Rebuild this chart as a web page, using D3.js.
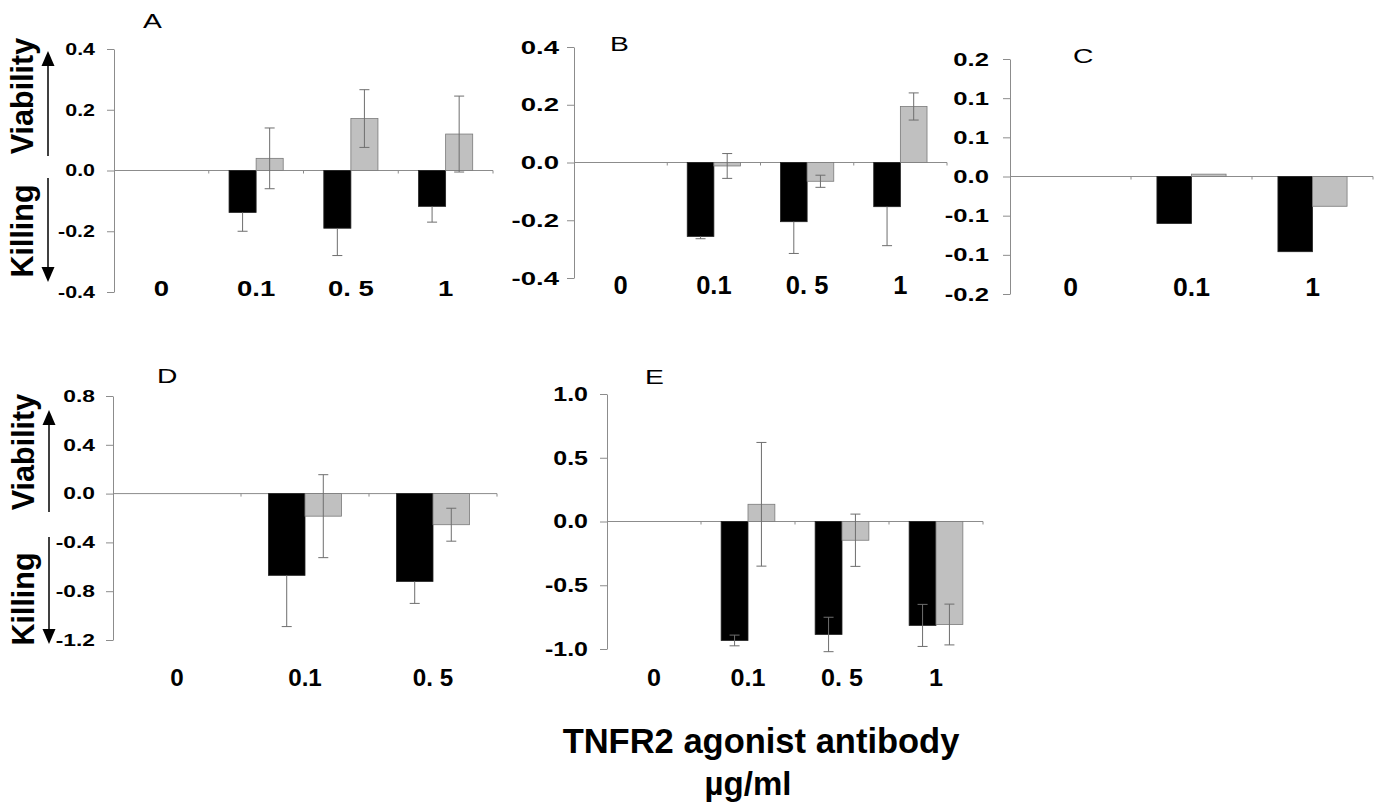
<!DOCTYPE html>
<html>
<head>
<meta charset="utf-8">
<script src="https://cdn.jsdelivr.net/npm/d3@7"></script>
<style>
  body { margin: 0; background: #fff; }
  svg { display: block; }
  text { font-family: "Liberation Sans", Arial, sans-serif; }
</style>
</head>
<body>
<div id="graphicContainer"></div>
<script>

// categories (antibody dose, µg/ml)
const catsFour = ["0", "0.1", "0. 5", "1"]
const catsC = ["0", "0.1", "1"]
const catsD = ["0", "0.1", "0. 5"]

// panel A
const aBlack = [0, -0.138, -0.19, -0.118]
const aBlackErr = [null, 0.062, 0.09, 0.052]
const aGrey = [0, 0.04, 0.171, 0.12]
const aGreyErr = [null, 0.10, 0.095, 0.125]
const ticksA = [-0.4, -0.2, 0, 0.2, 0.4]
const tickLabelsA = ["-0.4", "-0.2", "0.0", "0.2", "0.4"]

// panel B
const bBlack = [0, -0.256, -0.205, -0.153]
const bBlackErr = [null, 0.008, 0.11, 0.135]
const bGrey = [0, -0.012, -0.065, 0.194]
const bGreyErr = [null, 0.043, 0.021, 0.047]
const ticksB = [-0.4, -0.2, 0, 0.2, 0.4]
const tickLabelsB = ["-0.4", "-0.2", "0.0", "0.2", "0.4"]

// panel C (no error bars)
const cBlack = [0, -0.06, -0.096]
const cGrey = [0, 0.003, -0.038]
const ticksC = [-0.15, -0.1, -0.05, 0, 0.05, 0.1, 0.15]
const tickLabelsC = ["-0.2", "-0.1", "-0.1", "0.0", "0.1", "0.1", "0.2"]

// panel D
const dBlack = [0, -0.67, -0.72]
const dBlackErr = [null, 0.42, 0.18]
const dGrey = [0, -0.185, -0.255]
const dGreyErr = [null, 0.34, 0.135]
const ticksD = [-1.2, -0.8, -0.4, 0, 0.4, 0.8]
const tickLabelsD = ["-1.2", "-0.8", "-0.4", "0.0", "0.4", "0.8"]

// panel E
const eBlack = [0, -0.933, -0.886, -0.815]
const eBlackErr = [null, 0.042, 0.135, 0.165]
const eGrey = [0, 0.135, -0.147, -0.808]
const eGreyErr = [null, 0.485, 0.205, 0.16]
const ticksE = [-1, -0.5, 0, 0.5, 1]
const tickLabelsE = ["-1.0", "-0.5", "0.0", "0.5", "1.0"]

const xTitle = ["TNFR2 agonist antibody", "\u00b5g/ml"]

// layout
const panels = [
  { letter: "A", cats: catsFour, black: aBlack, blackErr: aBlackErr, grey: aGrey, greyErr: aGreyErr,
    ticks: ticksA, tickLabels: tickLabelsA, blackErrFull: false,
    left: 114, right: 493, top: 49, bottom: 292,
    tickFont: 16.5, tickSx: 1.3, tickGap: 19,
    catFont: 22, catSx: 1.25, catY: 296, letterPos: [143, 28],
    side: { x: 33, arrowX: 48, vCenter: 96, kCenter: 231, upTip: 51, upEnd: 156, downStart: 178, downTip: 282 } },
  { letter: "B", cats: catsFour, black: bBlack, blackErr: bBlackErr, grey: bGrey, greyErr: bGreyErr,
    ticks: ticksB, tickLabels: tickLabelsB, blackErrFull: false,
    left: 574, right: 947, top: 47, bottom: 278,
    tickFont: 19, tickSx: 1.45, tickGap: 15,
    catFont: 25.5, catSx: 1.0, catY: 294, letterPos: [610, 51] },
  { letter: "C", cats: catsC, black: cBlack, blackErr: null, grey: cGrey, greyErr: null,
    ticks: ticksC, tickLabels: tickLabelsC, blackErrFull: false,
    left: 1010, right: 1373, top: 59, bottom: 294,
    tickFont: 19, tickSx: 1.35, tickGap: 21,
    catFont: 25.5, catSx: 1.04, catY: 296, letterPos: [1073, 63] },
  { letter: "D", cats: catsD, black: dBlack, blackErr: dBlackErr, grey: dGrey, greyErr: dGreyErr,
    ticks: ticksD, tickLabels: tickLabelsD, blackErrFull: false,
    left: 113, right: 497, top: 396, bottom: 640,
    tickFont: 16.5, tickSx: 1.38, tickGap: 18,
    catFont: 23.5, catSx: 1.03, catY: 686, letterPos: [157, 383],
    side: { x: 34, arrowX: 49, vCenter: 452, kCenter: 599, upTip: 410, upEnd: 512, downStart: 537, downTip: 644 } },
  { letter: "E", cats: catsFour, black: eBlack, blackErr: eBlackErr, grey: eGrey, greyErr: eGreyErr,
    ticks: ticksE, tickLabels: tickLabelsE, blackErrFull: true,
    left: 607, right: 983, top: 394, bottom: 649,
    tickFont: 20, tickSx: 1.25, tickGap: 19,
    catFont: 23.5, catSx: 1.07, catY: 686, letterPos: [645, 384] }
]

const width = 1382
const height = 811
const axisColor = "#8c8c8c"

const svg = d3.select("#graphicContainer").append("svg")
  .attr("width", width)
  .attr("height", height)

panels.forEach(p => drawPanel(p))

function drawPanel(p) {

  const g = svg.append("g")

  const y = d3.scaleLinear()
    .domain(d3.extent(p.ticks))
    .range([p.bottom, p.top])

  const x0 = d3.scaleBand()
    .domain(p.cats)
    .range([p.left, p.right])

  const x1 = d3.scaleBand()
    .domain(["black", "grey"])
    .range([0, x0.bandwidth()])
    .paddingInner(0)
    .paddingOuter(0.75)

  // y axis
  const yAxis = g.append("g")
    .attr("transform", `translate(${p.left},0)`)
    .call(d3.axisLeft(y)
      .tickValues(p.ticks)
      .tickSize(7)
      .tickSizeOuter(0)
      .tickFormat((d, i) => p.tickLabels[i]))

  yAxis.select(".domain").attr("stroke", axisColor)
  yAxis.selectAll(".tick line").attr("stroke", axisColor)
  yAxis.selectAll(".tick text")
    .attr("font-size", p.tickFont)
    .attr("font-weight", "bold")
    .attr("fill", "#000")
    .attr("x", -p.tickGap / p.tickSx)
    .attr("transform", `scale(${p.tickSx},1)`)

  // x axis at zero
  const xAxis = g.append("g")
    .attr("transform", `translate(0,${y(0)})`)

  xAxis.append("line")
    .attr("x1", p.left)
    .attr("x2", p.right)
    .attr("stroke", axisColor)

  xAxis.selectAll(".xtick")
    .data(p.cats.slice(1).map(c => x0(c)).concat([p.right]))
    .enter()
    .append("line")
    .attr("x1", d => d)
    .attr("x2", d => d)
    .attr("y1", 0)
    .attr("y2", 3)
    .attr("stroke", axisColor)

  // bars
  const rows = p.cats.map((c, i) => [
    { cat: c, key: "black", value: p.black[i], err: p.blackErr ? p.blackErr[i] : null },
    { cat: c, key: "grey", value: p.grey[i], err: p.greyErr ? p.greyErr[i] : null }
  ]).flat()

  const barRows = rows.filter(d => d.value !== 0)

  g.selectAll(".bar")
    .data(barRows)
    .enter()
    .append("rect")
    .attr("x", d => x0(d.cat) + x1(d.key))
    .attr("y", d => Math.min(y(d.value), y(0)))
    .attr("width", x1.bandwidth())
    .attr("height", d => Math.abs(y(d.value) - y(0)))
    .attr("fill", d => d.key == "black" ? "#000" : "#c0c0c0")
    .attr("stroke", d => d.key == "black" ? "#222" : "#7a7a7a")
    .attr("stroke-width", 0.8)

  // error bars (black bars in A, B, D only show the outer half)
  const errRows = barRows.filter(d => d.err != null)

  const cx = d => x0(d.cat) + x1(d.key) + x1.bandwidth() / 2
  const outer = d => d.value + Math.sign(d.value) * d.err
  const inner = d => (d.key == "black" && !p.blackErrFull) ? d.value : d.value - Math.sign(d.value) * d.err
  const hasInnerCap = d => !(d.key == "black" && !p.blackErrFull)

  const eb = g.selectAll(".err")
    .data(errRows)
    .enter()
    .append("g")
    .attr("stroke", "#6e6e6e")
    .attr("stroke-width", 1)

  eb.append("line")
    .attr("x1", cx).attr("x2", cx)
    .attr("y1", d => y(inner(d)))
    .attr("y2", d => y(outer(d)))

  eb.append("line")
    .attr("x1", d => cx(d) - 5).attr("x2", d => cx(d) + 5)
    .attr("y1", d => y(outer(d)))
    .attr("y2", d => y(outer(d)))

  eb.filter(hasInnerCap).append("line")
    .attr("x1", d => cx(d) - 5).attr("x2", d => cx(d) + 5)
    .attr("y1", d => y(inner(d)))
    .attr("y2", d => y(inner(d)))

  // category labels
  g.selectAll(".cat")
    .data(p.cats)
    .enter()
    .append("text")
    .attr("transform", d => `translate(${x0(d) + x0.bandwidth() / 2},${p.catY}) scale(${p.catSx},1)`)
    .attr("text-anchor", "middle")
    .attr("font-size", p.catFont)
    .attr("font-weight", "bold")
    .text(d => d)

  // panel letter
  g.append("text")
    .attr("transform", `translate(${p.letterPos[0]},${p.letterPos[1]}) scale(1.45,1)`)
    .attr("font-size", 19.5)
    .text(p.letter)

  // Viability / Killing side labels
  if (p.side) {
    const s = p.side
    g.append("text")
      .attr("transform", `translate(${s.x},${s.vCenter}) rotate(-90)`)
      .attr("text-anchor", "middle")
      .attr("font-size", 30.5)
      .attr("font-weight", "bold")
      .text("Viability")

    g.append("text")
      .attr("transform", `translate(${s.x},${s.kCenter}) rotate(-90)`)
      .attr("text-anchor", "middle")
      .attr("font-size", 30.5)
      .attr("font-weight", "bold")
      .text("Killing")

    const headLen = 15
    const headHalf = 6.5

    g.append("line")
      .attr("x1", s.arrowX).attr("x2", s.arrowX)
      .attr("y1", s.upEnd).attr("y2", s.upTip + headLen - 1)
      .attr("stroke", "#000")
      .attr("stroke-width", 1.5)

    g.append("path")
      .attr("d", `M${s.arrowX},${s.upTip} L${s.arrowX + headHalf},${s.upTip + headLen} L${s.arrowX - headHalf},${s.upTip + headLen} Z`)
      .attr("fill", "#000")

    g.append("line")
      .attr("x1", s.arrowX).attr("x2", s.arrowX)
      .attr("y1", s.downStart).attr("y2", s.downTip - headLen + 1)
      .attr("stroke", "#000")
      .attr("stroke-width", 1.5)

    g.append("path")
      .attr("d", `M${s.arrowX},${s.downTip} L${s.arrowX + headHalf},${s.downTip - headLen} L${s.arrowX - headHalf},${s.downTip - headLen} Z`)
      .attr("fill", "#000")
  }
}

// shared x title
svg.append("text")
  .attr("x", 761)
  .attr("y", 753)
  .attr("text-anchor", "middle")
  .attr("font-size", 34.5)
  .attr("font-weight", "bold")
  .text(xTitle[0])

svg.append("text")
  .attr("x", 748)
  .attr("y", 795)
  .attr("text-anchor", "middle")
  .attr("font-size", 33)
  .attr("font-weight", "bold")
  .text(xTitle[1])

</script>
</body>
</html>
